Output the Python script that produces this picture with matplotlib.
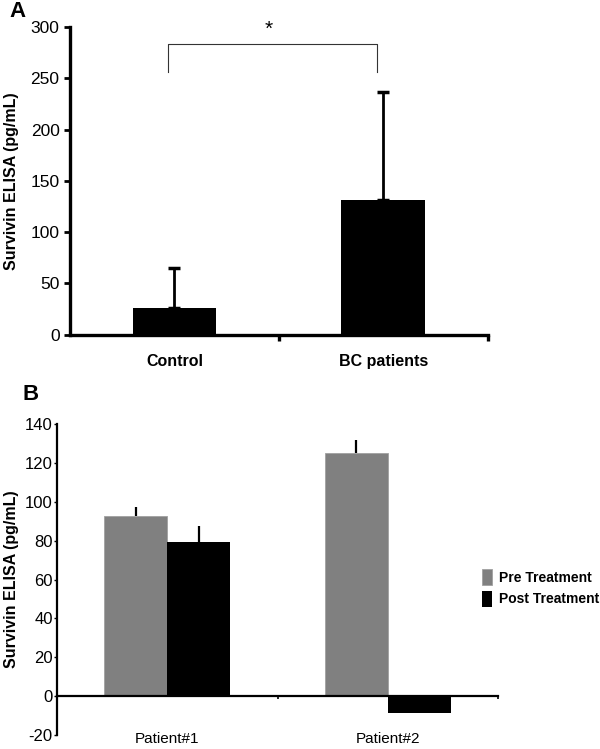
import matplotlib.pyplot as plt
import numpy as np

plt.rcParams['font.family'] = ['Liberation Sans', 'DejaVu Sans']
plt.rcParams['axes.unicode_minus'] = False

# panel A
groups_a = ["Control", "BC patients"]
means_a = [26, 131]
sd_a = [39, 106]

# panel B
patients = ["Patient#1", "Patient#2"]
pre = [92.8, 125]
pre_err = [4.6, 7]
post = [79.5, -8.7]
post_err = [8.2, -1]

fig = plt.figure(figsize=(6, 7.49), dpi=100)

# ---- A ----
ax1 = fig.add_axes([0.1167, 0.553, 0.696, 0.411])
x = np.arange(len(groups_a))
ax1.bar(x, means_a, width=0.4, color='black')
ax1.errorbar(x, means_a, yerr=[np.zeros(2), sd_a], fmt='none', ecolor='black',
             elinewidth=2, capsize=4, capthick=2.5)
ax1.set_xlim(-0.5, 1.5)
ax1.set_ylim(0, 300)
ax1.set_yticks(range(0, 301, 50))
ax1.spines['top'].set_visible(False)
ax1.spines['right'].set_visible(False)
ax1.spines['left'].set_linewidth(2.4)
ax1.spines['bottom'].set_linewidth(2.4)
ax1.tick_params(axis='y', direction='out', length=4, width=2, labelsize=12.5)
ax1.set_xticks(x)
ax1.set_xticklabels(groups_a, fontsize=11.5, fontweight='bold')
ax1.tick_params(axis='x', which='major', length=0, pad=14)
ax1.set_xticks([0.5, 1.5], minor=True)
ax1.tick_params(axis='x', which='minor', direction='out', length=4, width=2.4)
ax1.set_ylabel("Survivin ELISA (pg/mL)", fontsize=11.5, fontweight='bold', labelpad=8)

# significance bracket
ax1.plot([-0.03, -0.03, 0.97, 0.97], [256, 283, 283, 256], color='#333333', lw=0.8, clip_on=False)
ax1.text(0.45, 298, "*", ha='center', va='center', fontsize=15)
fig.text(0.015, 0.985, "A", fontsize=16, fontweight='bold', va='center')

# ---- B ----
ax2 = fig.add_axes([0.095, 0.0187, 0.735, 0.415])
xb = np.arange(len(patients))
w = 0.286
ax2.bar(xb - w / 2, pre, width=w, color='#808080', edgecolor='#a0a0a0', linewidth=0.6,
        label='Pre Treatment')
ax2.bar(xb + w / 2, post, width=w, color='black', label='Post Treatment')
ax2.errorbar(xb - w / 2, pre, yerr=[np.zeros(2), pre_err], fmt='none', ecolor='black', elinewidth=1.6)
ax2.errorbar(xb + w / 2, post, yerr=[np.zeros(2), np.abs(post_err)], fmt='none', ecolor='black',
             elinewidth=1.6)
ax2.set_xlim(-0.5, 1.5)
ax2.set_ylim(-20, 140)
ax2.set_yticks(range(-20, 141, 20))
ax2.spines['top'].set_visible(False)
ax2.spines['right'].set_visible(False)
ax2.spines['bottom'].set_position(('data', 0))
ax2.spines['left'].set_linewidth(1.6)
ax2.spines['bottom'].set_linewidth(1.6)
ax2.tick_params(axis='y', direction='out', length=2, width=1, labelsize=12, pad=1)
ax2.set_xticks(xb)
ax2.set_xticklabels(patients, fontsize=11)
ax2.tick_params(axis='x', which='major', length=0, pad=26)
ax2.set_xticks([0.5, 1.5], minor=True)
ax2.tick_params(axis='x', which='minor', direction='out', length=2, width=1.2)
ax2.set_ylabel("Survivin ELISA (pg/mL)", fontsize=11.5, fontweight='bold', labelpad=4)
ax2.legend(loc='center left', bbox_to_anchor=(0.803, 0.215), bbox_transform=fig.transFigure,
           frameon=False, borderpad=0, borderaxespad=0, handlelength=0.75, handleheight=1.4,
           handletextpad=0.5, labelspacing=0.4, prop={'size': 10, 'weight': 'bold'})
fig.text(0.037, 0.473, "B", fontsize=16, fontweight='bold', va='center')

fig.savefig("out.png", dpi=100)
